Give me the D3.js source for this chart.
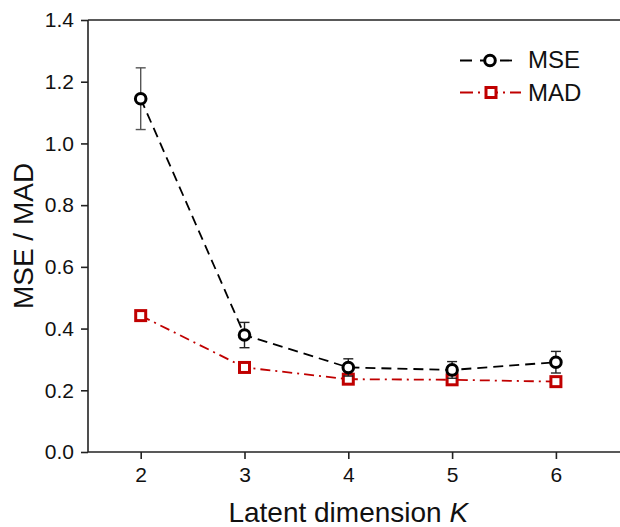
<!DOCTYPE html>
<html>
<head>
<meta charset="utf-8">
<script src="https://cdn.jsdelivr.net/npm/d3@7"></script>
<style>
  html, body { margin: 0; padding: 0; background: #fff; }
  svg { display: block; font-family: "Liberation Sans", Arial, sans-serif; }
</style>
</head>
<body>
<svg id="chart" width="620" height="527"></svg>
<script>
// Reconstruction error against latent dimension K
const dims = [2, 3, 4, 5, 6];
const mseValues = [1.145, 0.379, 0.274, 0.266, 0.291];
const mseErrors = [0.100, 0.041, 0.028, 0.027, 0.035];
const madValues = [0.442, 0.274, 0.236, 0.234, 0.228];
const yTicks = [0, 0.2, 0.4, 0.6, 0.8, 1.0, 1.2, 1.4];
const seriesNames = ["MSE", "MAD"];

(function () {
const svg = d3.select("#chart");
const plotLeft = 88, plotRight = 620, plotTop = 20, plotBottom = 452;
const red = "#c00000";

const x = d3.scaleLinear()
  .domain([2 - (140.7 - plotLeft) / 103.8, 2 + (plotRight - 140.7) / 103.8])
  .range([plotLeft, plotRight]);
const y = d3.scaleLinear().domain([0, 1.4]).range([plotBottom, plotTop]);

// axes
const xAxis = d3.axisBottom(x).tickValues(dims).tickSizeOuter(0).tickSizeInner(7).tickPadding(8)
  .tickFormat(d3.format("d"));
const gx = svg.append("g").attr("transform", `translate(0,${plotBottom})`).call(xAxis);
const yAxis = d3.axisLeft(y).tickValues(yTicks).tickSizeOuter(0).tickSizeInner(7).tickPadding(7)
  .tickFormat(d3.format(".1f"));
const gy = svg.append("g").attr("transform", `translate(${plotLeft},0)`).call(yAxis);
[gx, gy].forEach(g => {
  g.select(".domain").attr("stroke", "#222").attr("stroke-width", 1.6);
  g.selectAll(".tick line").attr("stroke", "#222").attr("stroke-width", 1.6);
  g.selectAll(".tick text").attr("fill", "#111").style("font-size", "21px")
    .style("font-family", "'Liberation Sans', Arial, sans-serif");
});
gx.select(".domain").attr("d", `M${plotLeft},0H${plotRight}`);
gy.select(".domain").attr("d", `M0,${plotBottom}V${plotTop}`);
// top frame line
svg.append("line").attr("x1", plotLeft).attr("x2", plotRight).attr("y1", plotTop).attr("y2", plotTop)
  .attr("stroke", "#222").attr("stroke-width", 1.6);

// axis titles
svg.append("text").attr("transform", `translate(33,${(plotTop + plotBottom) / 2}) rotate(-90)`)
  .attr("text-anchor", "middle").style("font-size", "28px").attr("fill", "#111").text("MSE / MAD");
const xt = svg.append("text").attr("x", x(4)).attr("y", 522).attr("text-anchor", "middle")
  .style("font-size", "28px").attr("fill", "#111");
xt.append("tspan").text("Latent dimension ");
xt.append("tspan").attr("font-style", "italic").text("K");

const line = d3.line().x(d => x(d[0])).y(d => y(d[1]));

// MAD series
const madPts = dims.map((k, i) => [k, madValues[i]]);
svg.append("path").attr("d", line(madPts)).attr("fill", "none").attr("stroke", red)
  .attr("stroke-width", 1.8).attr("stroke-dasharray", "10,5,2,5");
svg.selectAll(".mad").data(madPts).join("rect").attr("class", "mad")
  .attr("x", d => x(d[0]) - 5).attr("y", d => y(d[1]) - 5).attr("width", 10).attr("height", 10)
  .attr("fill", "#fff").attr("stroke", red).attr("stroke-width", 3);

// MSE series
const msePts = dims.map((k, i) => [k, mseValues[i], mseErrors[i]]);
svg.append("path").attr("d", line(msePts)).attr("fill", "none").attr("stroke", "#000")
  .attr("stroke-width", 1.8).attr("stroke-dasharray", "10,6");
const eb = svg.selectAll(".err").data(msePts).join("g").attr("class", "err")
  .attr("stroke", (d, i) => i === 0 ? "#555" : "#222").attr("stroke-width", 1.4);
eb.append("line").attr("x1", d => x(d[0])).attr("x2", d => x(d[0]))
  .attr("y1", d => y(d[1] + d[2])).attr("y2", d => y(d[1] - d[2]));
eb.append("line").attr("x1", d => x(d[0]) - 5).attr("x2", d => x(d[0]) + 5)
  .attr("y1", d => y(d[1] + d[2])).attr("y2", d => y(d[1] + d[2]));
eb.append("line").attr("x1", d => x(d[0]) - 5).attr("x2", d => x(d[0]) + 5)
  .attr("y1", d => y(d[1] - d[2])).attr("y2", d => y(d[1] - d[2]));
svg.selectAll(".mse").data(msePts).join("circle").attr("class", "mse")
  .attr("cx", d => x(d[0])).attr("cy", d => y(d[1])).attr("r", 5.3)
  .attr("fill", "#fff").attr("stroke", "#000").attr("stroke-width", 3);

// legend
const lg = svg.append("g");
const r1 = 60.5, r2 = 92.5;
lg.append("line").attr("x1", 460).attr("x2", 512).attr("y1", r1).attr("y2", r1)
  .attr("stroke", "#000").attr("stroke-width", 1.8).attr("stroke-dasharray", "12,8");
lg.append("circle").attr("cx", 490).attr("cy", r1).attr("r", 5.3)
  .attr("fill", "#fff").attr("stroke", "#000").attr("stroke-width", 3);
lg.append("line").attr("x1", 460).attr("x2", 521).attr("y1", r2).attr("y2", r2)
  .attr("stroke", red).attr("stroke-width", 1.8).attr("stroke-dasharray", "13,5,2,5");
lg.append("rect").attr("x", 486).attr("y", r2 - 5).attr("width", 10).attr("height", 10)
  .attr("fill", "#fff").attr("stroke", red).attr("stroke-width", 3);
lg.selectAll(".lt").data(seriesNames).join("text").attr("class", "lt")
  .attr("x", 528).attr("y", (d, i) => i === 0 ? 68 : 100.5)
  .style("font-size", "24px").attr("fill", "#111").text(d => d);
})();
</script>
</body>
</html>
